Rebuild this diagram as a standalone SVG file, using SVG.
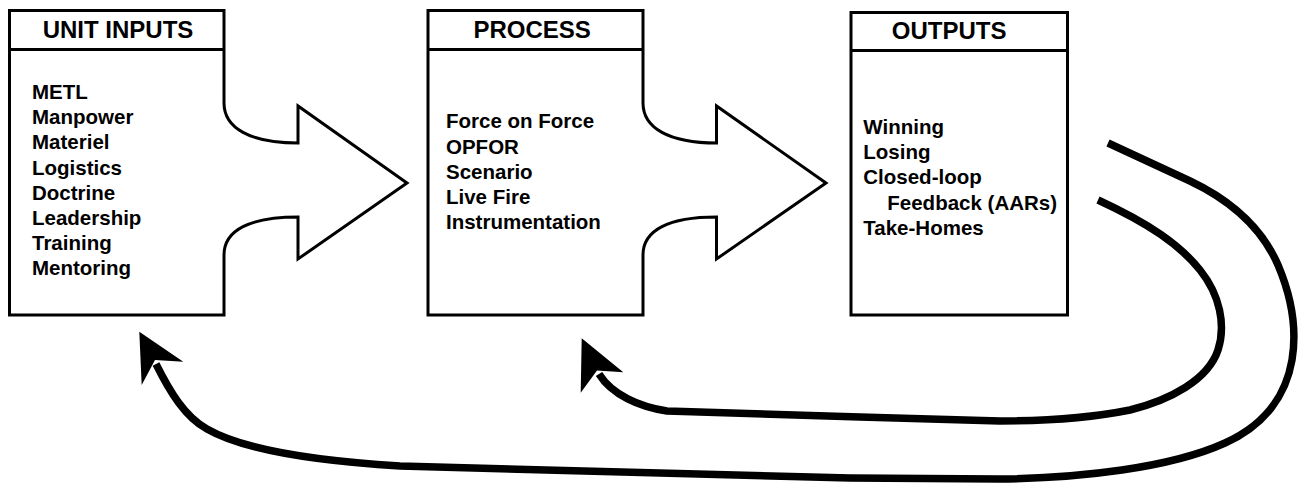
<svg xmlns="http://www.w3.org/2000/svg" width="1301" height="484" viewBox="0 0 1301 484">
<style>
.box{fill:#fff;stroke:#000;stroke-width:3;stroke-linejoin:miter}
.div{stroke:#000;stroke-width:3}
.hd{font-family:"Liberation Sans",Arial,sans-serif;font-weight:bold;font-size:24px;fill:#000;text-anchor:middle}
.it{font-family:"Liberation Sans",Arial,sans-serif;font-weight:bold;font-size:20.5px;fill:#000}
.fb{fill:none;stroke:#000;stroke-width:7.5;stroke-linejoin:round}
.ah{fill:#000;stroke:none}
</style>
<rect width="1301" height="484" fill="#fff"/>
<g id="unit-inputs">
<path class="box" d="M224,255 L224,315 L9.5,315 L9.5,10.5 L224,10.5 L224,103 C224,128 250,143 298,143 L298,106 L407,183 L298,259 L298,217 C250,217 224,230 224,255 Z"/>
<line class="div" x1="9.5" y1="49.5" x2="224" y2="49.5"/>
<text class="hd" x="118" y="38.3">UNIT INPUTS</text>
<text class="it">
<tspan x="32" y="99">METL</tspan>
<tspan x="32" y="124.2">Manpower</tspan>
<tspan x="32" y="149.4">Materiel</tspan>
<tspan x="32" y="174.6">Logistics</tspan>
<tspan x="32" y="199.8">Doctrine</tspan>
<tspan x="32" y="225">Leadership</tspan>
<tspan x="32" y="250.2">Training</tspan>
<tspan x="32" y="275.4">Mentoring</tspan>
</text>
</g>
<g id="process">
<path class="box" d="M643,255 L643,315 L428,315 L428,10.5 L643,10.5 L643,103 C643,128 669,143 716.5,143 L716.5,106 L826,183 L716.5,259 L716.5,217 C669,217 643,230 643,255 Z"/>
<line class="div" x1="428" y1="49.5" x2="643" y2="49.5"/>
<text class="hd" x="532.2" y="38.3">PROCESS</text>
<text class="it">
<tspan x="446" y="128.3">Force on Force</tspan>
<tspan x="446" y="153.5">OPFOR</tspan>
<tspan x="446" y="178.7">Scenario</tspan>
<tspan x="446" y="203.9">Live Fire</tspan>
<tspan x="446" y="229.1">Instrumentation</tspan>
</text>
</g>
<g id="outputs">
<rect class="box" x="851" y="12.5" width="216.5" height="302.5"/>
<line class="div" x1="851" y1="50.5" x2="1067.5" y2="50.5"/>
<text class="hd" x="949.2" y="39.3">OUTPUTS</text>
<text class="it">
<tspan x="863.3" y="134">Winning</tspan>
<tspan x="863.3" y="159.2">Losing</tspan>
<tspan x="863.3" y="184.4">Closed-loop</tspan>
<tspan x="887.3" y="209.6">Feedback (AARs)</tspan>
<tspan x="863.3" y="234.8">Take-Homes</tspan>
</text>
</g>
<g id="connectors">
<path class="fb" d="M1108,143 L1190,181 C1230,200 1262,228 1278,265 C1292,298 1297,330 1292,360 C1286,395 1265,425 1225,443 C1170,468 1080,478 1000,479 L850,478 L400,466 C300,460 240,448 207,429 C185,417 170,392 156,364"/>
<path class="ah" d="M139.3,331.7 L183.3,361.7 L155,360 L141.7,385 Z"/>
<path class="fb" d="M1098,200 C1150,224 1180,245 1200,270 C1220,295 1226,325 1218,350 C1208,380 1170,400 1130,410 C1090,418 1040,421 1000,421 L860,417 L667,411 C640,407 612,395 599,374"/>
<path class="ah" d="M581.7,338.3 L623.3,372.3 L597,370.5 L580.7,392.7 Z"/>
</g>
</svg>
